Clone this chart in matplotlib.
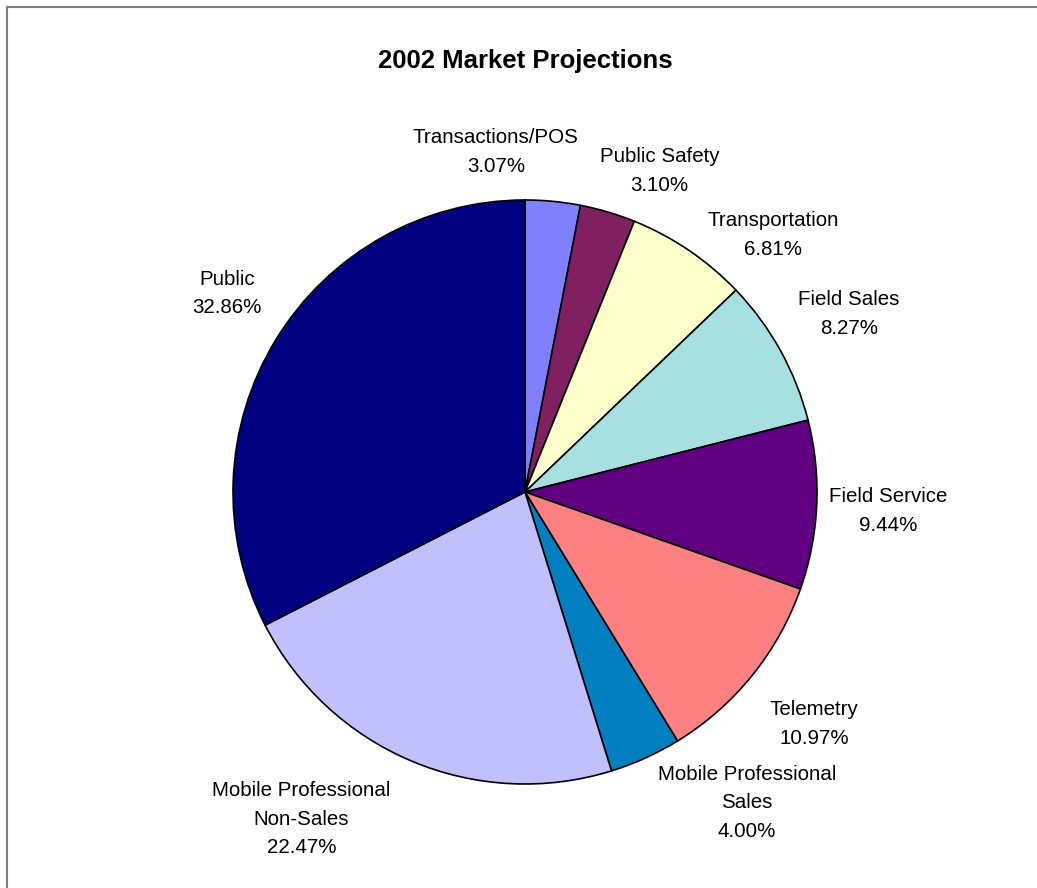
import matplotlib
matplotlib.use("Agg")
import matplotlib.pyplot as plt
from matplotlib.lines import Line2D

plt.rcParams['font.family'] = ['Liberation Sans', 'DejaVu Sans']

# ======================
# DONNÉES
# ======================
segments = ["Transactions/POS", "Public Safety", "Transportation", "Field Sales",
            "Field Service", "Telemetry", "Mobile Professional\nSales",
            "Mobile Professional\nNon-Sales", "Public"]
shares = [3.07, 3.10, 6.81, 8.27, 9.44, 10.97, 4.00, 22.47, 32.86]
colors = ["#8080FF", "#802060", "#FFFFCC", "#A6E0E0", "#600080",
          "#FF8080", "#0080C0", "#C0C0FF", "#000080"]

# label centres, in pie radius units (Excel "best fit" placement)
label_pos = [(-0.10, 1.165), (0.46, 1.10), (0.85, 0.88), (1.11, 0.61),
             (1.245, -0.065), (0.99, -0.795), (0.76, -1.065),
             (-0.765, -1.12), (-1.02, 0.68)]

W, H = 1037, 888
fig = plt.figure(figsize=(W / 100, H / 100), dpi=100)

# cadre gris du graphique
fig.add_artist(Line2D([7 / W, 7 / W], [0, 1 - 7 / H], color="#808080", lw=1.5))
fig.add_artist(Line2D([7 / W, 1], [1 - 7 / H, 1 - 7 / H], color="#808080", lw=1.5))

cx, cy, r = 525, 492, 292
ax = fig.add_axes([(cx - r) / W, (H - cy - r) / H, 2 * r / W, 2 * r / H])
ax.pie(shares, colors=colors, startangle=90, counterclock=False, radius=1,
       wedgeprops=dict(edgecolor="black", linewidth=1.2))
ax.set_xlim(-1, 1)
ax.set_ylim(-1, 1)
ax.set_aspect("equal")

for name, val, (lx, ly) in zip(segments, shares, label_pos):
    ax.text(lx, ly, f"{name}\n{val:.2f}%", ha="center", va="center",
            fontsize=14.8, linespacing=1.65, clip_on=False)

fig.text(cx / W, 1 - 61 / H, "2002 Market Projections", ha="center", va="center",
         fontsize=18.5, fontweight="bold")

fig.savefig("out.png", dpi=100)
